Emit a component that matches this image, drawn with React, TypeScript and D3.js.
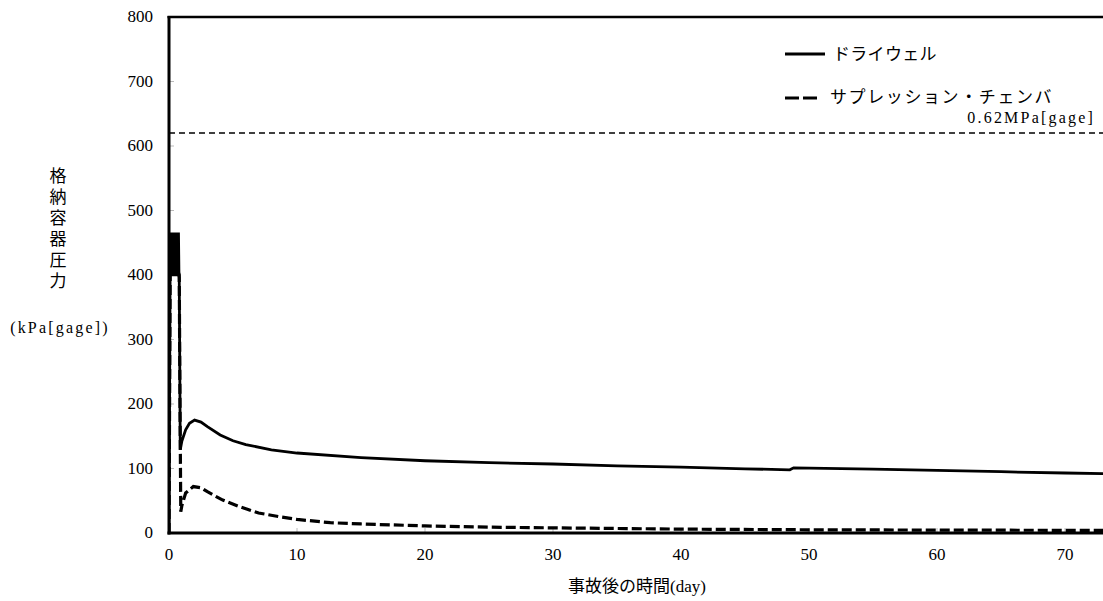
import React from "react";
import * as d3 from "d3";

// ---- data ----
const xTicks = [0, 10, 20, 30, 40, 50, 60, 70];
const yTicks = [0, 100, 200, 300, 400, 500, 600, 700, 800];

// Drywell (ドライウェル) pressure [kPa gage] vs time [day]
const dwTime = [
  0, 0.1, 0.14, 0.18, 0.22, 0.26, 0.3, 0.34, 0.38, 0.42, 0.46, 0.5, 0.54, 0.58,
  0.62, 0.66, 0.7, 0.74, 0.78, 0.8, 0.88, 1.0, 1.3, 1.6, 2.0, 2.5, 3, 4, 5, 6,
  8, 10, 15, 20, 25, 30, 35, 40, 45, 48.5, 48.8, 55, 60, 65, 70, 75,
];
const dwValue = [
  0, 465, 398, 466, 398, 466, 398, 466, 398, 466, 398, 466, 398, 466,
  398, 466, 398, 466, 398, 396, 129, 142, 160, 170, 175, 172, 165, 152, 143, 137,
  129, 124, 117, 112, 109, 107, 104, 102, 99.5, 98, 101, 99, 97, 95, 93, 91.5,
];

// Suppression chamber (サプレッション・チェンバ) pressure [kPa gage]
const scTime = [
  0, 0.1, 0.8, 0.86, 0.92, 1.0, 1.3, 1.9, 2.5, 3, 4.2, 5.5, 7, 8.7, 10, 12.6,
  15, 20, 25, 30, 40, 50, 60, 75,
];
const scValue = [
  0, 440, 400, 200, 33, 42, 62, 72, 70, 64, 51, 41, 31, 25, 21, 16,
  14, 11, 9, 8, 6, 5, 4.5, 4,
];

const limitValue = 620;
const limitLabel = "0.62MPa[gage]";
const legendLabels = ["ドライウェル", "サプレッション・チェンバ"];
const yTitleChars = ["格", "納", "容", "器", "圧", "力"];
const yUnit = "(kPa[gage])";
const xTitle = "事故後の時間(day)";

const SERIF = "'Liberation Serif', 'DejaVu Serif', serif";
const MIXED = "'Liberation Serif', 'Noto Sans CJK JP', serif";

export default function App() {
  const W = 1103;
  const H = 601;
  const x = d3.scaleLinear().domain([0, 80]).range([169, 169 + 80 * 12.8]);
  const y = d3.scaleLinear().domain([0, 800]).range([533, 17]);

  const line = d3
    .line<[number, number]>()
    .x((d) => x(d[0]))
    .y((d) => y(d[1]));

  const dwPts = dwTime.map((t, i) => [t, dwValue[i]] as [number, number]);
  const scPts = scTime.map((t, i) => [t, scValue[i]] as [number, number]);

  const x0 = x(0);
  const xEnd = x(80);

  return (
    <svg
      width={W}
      height={H}
      style={{ position: "fixed", left: 0, top: 0, background: "#fff" }}
    >
      <defs>
        <clipPath id="plot">
          <rect x={x0} y={y(800)} width={xEnd - x0} height={y(0) - y(800)} />
        </clipPath>
      </defs>
      <rect width={W} height={H} fill="#fff" />

      {/* faint inner ticks */}
      {xTicks.slice(1).map((t) => (
        <line key={"xt" + t} x1={x(t)} x2={x(t)} y1={y(0)} y2={y(0) - 5} stroke="#bbb" strokeWidth={1} />
      ))}
      {yTicks.slice(1, -1).map((t) => (
        <line key={"yt" + t} x1={x0} x2={x0 + 5} y1={y(t)} y2={y(t)} stroke="#bbb" strokeWidth={1} />
      ))}

      {/* 0.62 MPa limit line */}
      <line
        x1={x0}
        x2={W}
        y1={y(limitValue)}
        y2={y(limitValue)}
        stroke="#000"
        strokeWidth={1.5}
        strokeDasharray="6,4"
      />
      <text
        x={1095}
        y={y(limitValue) - 10}
        fontSize={16}
        textAnchor="end"
        letterSpacing={2.2}
        style={{ fontFamily: SERIF }}
      >
        {limitLabel}
      </text>

      <g clipPath="url(#plot)">
        <path d={line(scPts) || ""} fill="none" stroke="#000" strokeWidth={3.2} strokeDasharray="10,4" />
        <path d={line(dwPts) || ""} fill="none" stroke="#000" strokeWidth={2.8} strokeLinejoin="miter" />
      </g>

      {/* frame */}
      <line x1={x0} x2={x0} y1={y(800) - 1} y2={y(0) + 1.5} stroke="#000" strokeWidth={3} />
      <line x1={x0 - 1.5} x2={W} y1={y(0)} y2={y(0)} stroke="#000" strokeWidth={3} />
      <line x1={x0 - 1.5} x2={W} y1={y(800)} y2={y(800)} stroke="#000" strokeWidth={2.5} />

      {/* tick labels */}
      {yTicks.map((t) => (
        <text key={"yl" + t} x={153} y={y(t) + 5} fontSize={17} textAnchor="end" style={{ fontFamily: SERIF }}>
          {t}
        </text>
      ))}
      {xTicks.map((t) => (
        <text key={"xl" + t} x={x(t)} y={560} fontSize={17} textAnchor="middle" style={{ fontFamily: SERIF }}>
          {t}
        </text>
      ))}

      {/* axis titles */}
      {yTitleChars.map((c, i) => (
        <text
          key={"yc" + i}
          x={58}
          y={182 + i * 21}
          fontSize={17}
          textAnchor="middle"
          style={{ fontFamily: MIXED }}
        >
          {c}
        </text>
      ))}
      <text x={60} y={333} fontSize={16} textAnchor="middle" letterSpacing={2.2} style={{ fontFamily: SERIF }}>
        {yUnit}
      </text>
      <text x={637} y={592} fontSize={17} textAnchor="middle" style={{ fontFamily: MIXED }}>
        {xTitle}
      </text>

      {/* legend */}
      <line x1={785} x2={825} y1={54} y2={54} stroke="#000" strokeWidth={3} />
      <text x={833} y={60} fontSize={17} letterSpacing={0.3} style={{ fontFamily: MIXED }}>
        {legendLabels[0]}
      </text>
      <line x1={785} x2={818} y1={98} y2={98} stroke="#000" strokeWidth={3} strokeDasharray="14,4" />
      <text x={830} y={103} fontSize={17} letterSpacing={1.6} style={{ fontFamily: MIXED }}>
        {legendLabels[1]}
      </text>
    </svg>
  );
}
